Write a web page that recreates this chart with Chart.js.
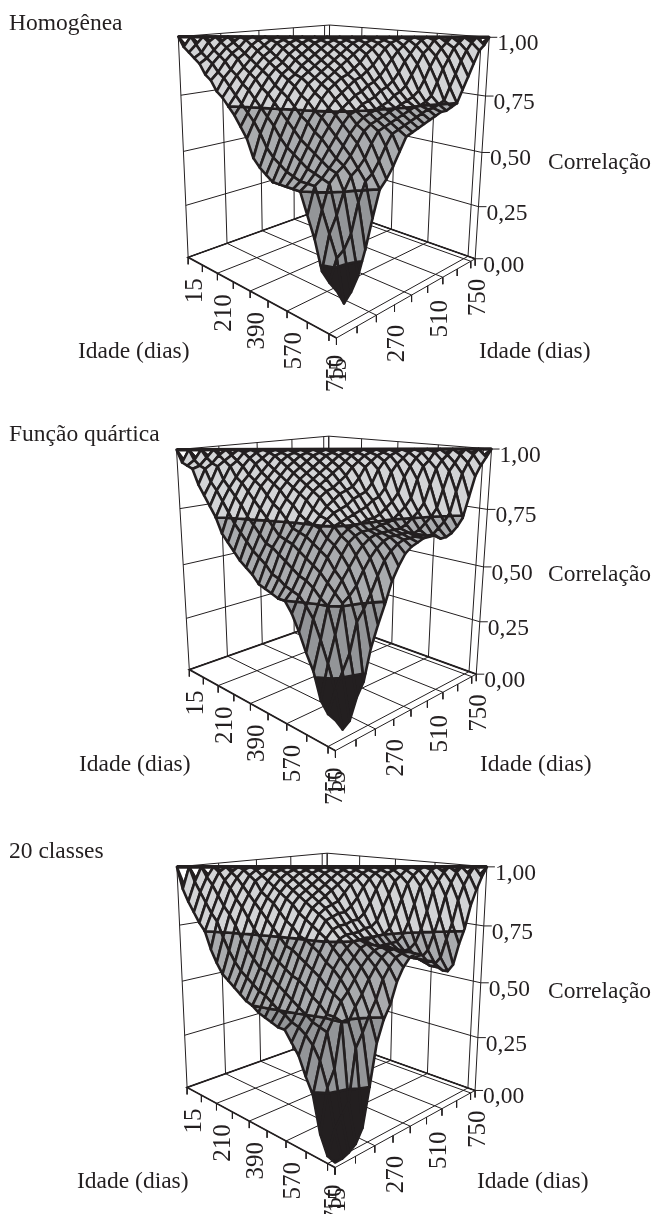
<!DOCTYPE html>
<html lang="pt">
<head>
<meta charset="utf-8">
<title>Correlação por idade</title>
<script src="https://cdn.jsdelivr.net/npm/chart.js@4"></script>
<style>
    html, body { margin: 0; padding: 0; background: #fff; }
    canvas { position: absolute; left: 0; }
</style>
</head>
<body>
<script>
// tick labels and where they sit on the category axes (index into the 26 ages)
const leftAges = ['15', '210', '390', '570', '750'];
const leftAgeIndex = [0, 6, 12, 18, 24];
const rightAges = ['15', '270', '510', '750'];
const rightAgeIndex = [0, 9, 17, 25];
const corrTicks = [0, 0.25, 0.5, 0.75, 1];
const corrLabels = ['0,00', '0,25', '0,50', '0,75', '1,00'];

// correlations, one list per age lag (first entry = age 15 edge)
const homogenea = [
    [1,1,1,1,1,1,1,1,1,1,1,1,1,1,1,1,1,1,1,1,1,1,1,1,1,1],
    [.96,.97,.98,.98,.98,.99,.99,.99,.99,.99,.99,.99,.99,.99,.99,.99,.99,.99,.99,.99,.99,.98,.98,.98,.97],
    [.94,.94,.95,.96,.96,.97,.97,.98,.98,.98,.98,.98,.98,.98,.98,.98,.98,.97,.97,.96,.96,.96,.95,.95],
    [.92,.92,.93,.94,.94,.95,.95,.96,.96,.96,.96,.96,.96,.96,.96,.96,.95,.94,.94,.93,.92,.91,.90],
    [.90,.90,.91,.92,.92,.93,.93,.94,.94,.94,.94,.94,.94,.94,.93,.92,.91,.90,.89,.88,.86,.85],
    [.86,.87,.88,.89,.90,.91,.91,.92,.92,.92,.92,.92,.91,.90,.89,.87,.86,.84,.83,.81,.80],
    [.84,.85,.86,.87,.88,.89,.89,.90,.90,.90,.90,.89,.88,.86,.84,.82,.80,.78,.76,.75],
    [.80,.82,.83,.85,.86,.87,.87,.88,.88,.88,.87,.86,.84,.82,.80,.78,.76,.75,.74],
    [.78,.79,.81,.82,.83,.85,.86,.86,.86,.86,.85,.83,.81,.79,.77,.75,.74,.73],
    [.75,.76,.78,.80,.81,.83,.84,.84,.84,.83,.81,.79,.77,.76,.75,.74,.73],
    [.72,.73,.75,.77,.79,.80,.81,.82,.81,.80,.78,.76,.75,.74,.73,.72],
    [.68,.70,.72,.74,.76,.78,.79,.79,.78,.77,.75,.74,.73,.72,.71],
    [.64,.66,.69,.71,.73,.75,.76,.76,.75,.74,.73,.72,.71,.70],
    [.57,.61,.65,.68,.71,.73,.74,.74,.73,.72,.71,.70,.69],
    [.54,.58,.62,.65,.68,.70,.71,.71,.71,.70,.69,.68],
    [.52,.56,.60,.63,.66,.67,.68,.69,.69,.68,.67],
    [.50,.54,.58,.61,.63,.64,.65,.65,.64,.62],
    [.50,.53,.56,.59,.60,.61,.60,.59,.57],
    [.50,.52,.55,.57,.58,.57,.55,.53],
    [.50,.52,.54,.56,.55,.53,.50],
    [.50,.52,.53,.50,.46,.40],
    [.42,.44,.42,.35,.29],
    [.34,.36,.30,.20],
    [.23,.28,.15],
    [.20,.12],
    [.18]
];

const quartica = [
    [1,1,1,1,1,1,1,1,1,1,1,1,1,1,1,1,1,1,1,1,1,1,1,1,1,1],
    [.95,.96,.97,.98,.98,.99,.99,.99,.99,.99,.99,.99,.99,.99,.99,.99,.99,.99,.99,.99,.99,.98,.98,.98,.97],
    [.94,.94,.95,.96,.96,.97,.97,.98,.98,.98,.98,.98,.98,.98,.98,.98,.98,.97,.97,.96,.96,.95,.95,.94],
    [.93,.93,.94,.94,.94,.95,.95,.96,.96,.96,.96,.96,.96,.96,.96,.96,.95,.94,.94,.93,.92,.91,.90],
    [.87,.88,.89,.90,.91,.92,.93,.94,.94,.94,.94,.94,.94,.94,.93,.92,.90,.89,.87,.85,.84,.82],
    [.83,.85,.86,.88,.89,.90,.91,.92,.92,.92,.92,.91,.90,.88,.86,.84,.82,.80,.78,.76,.74],
    [.79,.81,.83,.85,.87,.88,.89,.90,.90,.90,.89,.87,.85,.83,.81,.79,.77,.75,.73,.71],
    [.75,.77,.80,.82,.84,.86,.87,.88,.88,.87,.86,.84,.82,.79,.77,.75,.73,.71,.69],
    [.69,.73,.76,.79,.81,.83,.85,.86,.86,.85,.83,.80,.77,.75,.73,.71,.69,.68],
    [.66,.70,.73,.76,.79,.81,.83,.84,.83,.81,.79,.76,.74,.72,.70,.69,.68],
    [.63,.67,.70,.73,.76,.78,.80,.81,.80,.78,.76,.74,.72,.71,.70,.70],
    [.60,.64,.67,.70,.73,.76,.78,.79,.77,.75,.73,.72,.71,.70,.70],
    [.58,.62,.66,.69,.72,.75,.77,.76,.75,.73,.72,.71,.70,.70],
    [.56,.60,.64,.68,.71,.74,.75,.74,.73,.72,.71,.70,.69],
    [.53,.57,.62,.66,.69,.71,.72,.72,.71,.70,.69,.68],
    [.52,.56,.60,.64,.67,.69,.70,.69,.68,.67,.66],
    [.51,.54,.58,.62,.65,.66,.66,.65,.64,.62],
    [.50,.53,.57,.60,.61,.62,.61,.59,.57],
    [.50,.52,.55,.57,.58,.56,.53,.49],
    [.46,.49,.52,.54,.53,.48,.42],
    [.40,.45,.50,.51,.44,.34],
    [.33,.38,.40,.33,.22],
    [.27,.30,.27,.17],
    [.17,.21,.09],
    [.13,.07],
    [.12]
];

const vinteClasses = [
    [1,1,1,1,1,1,1,1,1,1,1,1,1,1,1,1,1,1,1,1,1,1,1,1,1,1],
    [.91,.94,.96,.98,.98,.99,.99,.99,.99,.99,.99,.99,.99,.99,.99,.99,.99,.99,.99,.99,.99,.98,.98,.97,.96],
    [.86,.90,.93,.95,.96,.97,.97,.98,.98,.98,.98,.98,.98,.98,.98,.98,.98,.97,.97,.96,.95,.94,.93,.91],
    [.82,.86,.89,.92,.93,.95,.95,.96,.96,.96,.96,.96,.96,.96,.96,.96,.95,.94,.93,.91,.89,.87,.85],
    [.78,.82,.85,.88,.90,.91,.93,.94,.94,.94,.94,.94,.94,.93,.92,.90,.88,.86,.83,.81,.78,.76],
    [.75,.79,.82,.85,.87,.89,.91,.92,.92,.92,.92,.91,.89,.87,.85,.82,.79,.76,.74,.72,.70],
    [.68,.73,.78,.81,.84,.87,.89,.90,.90,.90,.88,.86,.83,.80,.77,.74,.71,.68,.65,.62],
    [.63,.68,.73,.77,.81,.84,.87,.88,.88,.87,.84,.81,.78,.75,.72,.69,.66,.63,.60],
    [.59,.64,.69,.74,.78,.81,.84,.86,.86,.84,.81,.78,.75,.72,.69,.66,.63,.61],
    [.57,.61,.66,.71,.75,.79,.82,.84,.83,.80,.77,.75,.72,.70,.67,.65,.63],
    [.55,.59,.63,.68,.72,.76,.80,.82,.80,.77,.74,.72,.71,.69,.67,.66],
    [.53,.57,.62,.66,.71,.75,.78,.79,.77,.75,.73,.72,.70,.68,.67],
    [.51,.55,.60,.64,.69,.73,.76,.76,.75,.74,.73,.72,.71,.70],
    [.50,.54,.58,.62,.67,.71,.73,.73,.73,.72,.72,.71,.71],
    [.48,.52,.56,.61,.65,.68,.70,.70,.70,.70,.70,.70],
    [.47,.50,.54,.59,.63,.66,.67,.67,.67,.67,.67],
    [.46,.49,.52,.56,.60,.63,.63,.63,.63,.62],
    [.45,.47,.50,.54,.58,.59,.58,.56,.54],
    [.45,.46,.48,.51,.56,.54,.51,.49],
    [.41,.44,.47,.51,.49,.45,.41],
    [.37,.41,.46,.50,.40,.25],
    [.30,.36,.33,.20,.10],
    [.24,.27,.16,.05],
    [.10,.12,.03],
    [.03,.02],
    [.02]
];

const INK = '#231f20';
const BAND_COLORS = ['#231f20', '#939598', '#a9abae', '#d3d4d6'];
const BAND_LIMITS = [0, 0.25, 0.5, 0.75, 1];
const GRID_LINES = [0, 6, 12, 18, 24, 25];
const TICK_MARKS = [0, 3, 6, 9, 12, 15, 18, 21, 24, 25];
const CELLS = 25;

// frame corners in page pixels, used to fit the 3D camera of each panel
const panels = [
    {
        lags: homogenea, title: 'Homogênea', top: 0, height: 410,
        floor: [[188, 257], [337, 338], [475, 259], [328, 207]],
        roof: [[178, 37], [330, 25], [489, 37]],
        titleAt: [9, 30], leftName: [78, 358], rightName: [479, 358], corrName: [548, 169]
    },
    {
        lags: quartica, title: 'Função quártica', top: 410, height: 415,
        floor: [[190, 670], [334, 751], [477, 673], [328, 621]],
        roof: [[177, 449], [328, 436], [492, 450]],
        titleAt: [9, 441], leftName: [79, 771], rightName: [480, 771], corrName: [548, 581]
    },
    {
        lags: vinteClasses, title: '20 classes', top: 825, height: 389,
        floor: [[187, 1087], [335, 1168], [475, 1090], [327, 1038]],
        roof: [[177, 867], [327, 853], [487, 867]],
        titleAt: [9, 858], leftName: [77, 1188], rightName: [477, 1188], corrName: [548, 998]
    }
];

// least squares camera matrix from the known corners
function fitCamera(panel) {
    const world = [[0, 0, 0], [1, 0, 0], [1, 1, 0], [0, 1, 0], [0, 0, 1], [0, 1, 1], [1, 1, 1]];
    const screen = panel.floor.concat(panel.roof);
    const rows = [];
    world.forEach(([X, Y, Z], n) => {
        const [x, y] = screen[n];
        rows.push([X, Y, Z, 1, 0, 0, 0, 0, -x * X, -x * Y, -x * Z, x]);
        rows.push([0, 0, 0, 0, X, Y, Z, 1, -y * X, -y * Y, -y * Z, y]);
    });
    const size = 11;
    const m = [];
    for (let r = 0; r < size; r++) {
        m.push([]);
        for (let c = 0; c <= size; c++) {
            m[r].push(rows.reduce((sum, row) => sum + row[r] * row[c], 0));
        }
    }
    for (let c = 0; c < size; c++) {
        let best = c;
        for (let r = c + 1; r < size; r++) {
            if (Math.abs(m[r][c]) > Math.abs(m[best][c])) best = r;
        }
        [m[c], m[best]] = [m[best], m[c]];
        for (let r = 0; r < size; r++) {
            if (r === c) continue;
            const k = m[r][c] / m[c][c];
            for (let i = c; i <= size; i++) m[r][i] -= k * m[c][i];
        }
    }
    const p = m.map((row, r) => row[size] / row[r]);
    return (a, b, z) => {
        const X = a / CELLS, Y = b / CELLS;
        const w = p[8] * X + p[9] * Y + p[10] * z + 1;
        return {
            x: (p[0] * X + p[1] * Y + p[2] * z + p[3]) / w,
            y: (p[4] * X + p[5] * Y + p[6] * z + p[7]) / w
        };
    };
}

function clipAt(poly, level, keepAbove) {
    const out = [];
    poly.forEach((cur, n) => {
        const next = poly[(n + 1) % poly.length];
        const curIn = keepAbove ? cur.z >= level : cur.z <= level;
        const nextIn = keepAbove ? next.z >= level : next.z <= level;
        if (curIn) out.push(cur);
        if (curIn !== nextIn) {
            const t = (level - cur.z) / (next.z - cur.z);
            out.push({ a: cur.a + t * (next.a - cur.a), b: cur.b + t * (next.b - cur.b), z: level });
        }
    });
    return out;
}

function lineSet(points, width) {
    return { data: points, showLine: true, borderColor: INK, borderWidth: width, pointRadius: 0, tension: 0 };
}

function frameDatasets(project) {
    const sets = [];
    const nudge = (p, dx, dy) => ({ x: p.x + dx, y: p.y + dy });

    GRID_LINES.forEach(k => {
        sets.push(lineSet([project(k, 0, 0), project(k, CELLS, 0), project(k, CELLS, 1)], 1));
        sets.push(lineSet([project(CELLS, k, 0), project(0, k, 0), project(0, k, 1)], 1));
    });
    corrTicks.forEach(z => {
        const end = project(CELLS, CELLS, z);
        sets.push(lineSet([project(0, 0, z), project(0, CELLS, z), end, nudge(end, 8, 0)], 1));
    });

    // heavier base edges
    sets.push(lineSet([project(0, CELLS, 0), project(0, 0, 0), project(CELLS, 0, 0)], 1.7));
    sets.push(lineSet([project(0, CELLS, 0), project(CELLS, CELLS, 0)], 1.7));

    TICK_MARKS.forEach(k => {
        const onLeft = project(k, 0, 0);
        const onRight = project(CELLS, k, 0);
        sets.push(lineSet([onLeft, nudge(onLeft, 0, 7)], 1));
        sets.push(lineSet([onRight, nudge(onRight, 0, 7)], 1));
    });
    return sets;
}

function surfaceDatasets(panel, project) {
    const height = (a, b) => panel.lags[Math.abs(a - b)][Math.min(a, b)];
    const cells = [];
    for (let a = 0; a < CELLS; a++) {
        for (let b = 0; b < CELLS; b++) cells.push([a, b]);
    }
    // back corner first, so nearer cells cover farther ones
    cells.sort((p, q) => (p[0] - p[1]) - (q[0] - q[1]));

    const sets = [];
    cells.forEach(([a, b]) => {
        const quad = [[a, b], [a + 1, b], [a + 1, b + 1], [a, b + 1]]
            .map(([i, j]) => ({ a: i, b: j, z: height(i, j) }));
        BAND_COLORS.forEach((color, band) => {
            let poly = clipAt(quad, BAND_LIMITS[band], true);
            if (poly.length) poly = clipAt(poly, BAND_LIMITS[band + 1], false);
            if (poly.length < 3) return;
            const pts = poly.map(v => project(v.a, v.b, v.z));
            pts.push(pts[0]);
            const set = lineSet(pts, 2.6);
            set.polygonFill = color;
            set.borderJoinStyle = 'round';
            set.borderCapStyle = 'round';
            sets.push(set);
        });
    });
    return sets;
}

// the line controller only strokes, so each cell's fill goes in just before it
const polygonFill = {
    id: 'polygonFill',
    beforeDatasetDraw(chart, args) {
        const color = chart.data.datasets[args.index].polygonFill;
        if (!color) return;
        const ctx = chart.ctx;
        ctx.save();
        ctx.fillStyle = color;
        ctx.beginPath();
        args.meta.data.forEach((pt, n) => (n ? ctx.lineTo(pt.x, pt.y) : ctx.moveTo(pt.x, pt.y)));
        ctx.closePath();
        ctx.fill();
        ctx.restore();
    }
};

function drawLabels(chart, panel, project) {
    const ctx = chart.ctx;
    const sx = chart.scales.x, sy = chart.scales.y;
    const plain = (text, at) => ctx.fillText(text, sx.getPixelForValue(at[0]), sy.getPixelForValue(at[1]));
    const upright = (text, anchor) => {
        ctx.save();
        ctx.translate(sx.getPixelForValue(anchor.x), sy.getPixelForValue(anchor.y));
        ctx.rotate(-Math.PI / 2);
        ctx.textAlign = 'right';
        ctx.textBaseline = 'middle';
        ctx.fillText(text, 0, 0);
        ctx.restore();
    };

    ctx.save();
    ctx.font = '23.5px "Liberation Serif"';
    ctx.fillStyle = INK;
    ctx.textAlign = 'left';
    ctx.textBaseline = 'alphabetic';
    plain(panel.title, panel.titleAt);
    plain('Idade (dias)', panel.leftName);
    plain('Idade (dias)', panel.rightName);
    plain('Correlação', panel.corrName);

    corrLabels.forEach((label, n) => {
        const end = project(CELLS, CELLS, corrTicks[n]);
        plain(label, [end.x + 8, end.y + 13]);
    });
    ctx.font = '25px "Liberation Serif"';
    leftAges.forEach((label, n) => {
        const p = project(leftAgeIndex[n], 0, 0);
        upright(label, { x: p.x + 7, y: p.y + 21 });
    });
    rightAges.forEach((label, n) => {
        const p = project(CELLS, rightAgeIndex[n], 0);
        upright(label, { x: p.x + 3, y: p.y + 20 });
    });
    ctx.restore();
}

function renderPanel(panel) {
    const canvas = document.createElement('canvas');
    canvas.width = 654;
    canvas.height = panel.height;
    canvas.style.top = panel.top + 'px';
    canvas.style.width = '654px';
    canvas.style.height = panel.height + 'px';
    document.body.appendChild(canvas);

    const project = fitCamera(panel);
    const ridge = lineSet([project(0, 0, 1), project(CELLS, CELLS, 1)], 3.6);
    // Chart.js paints the first dataset last, so the frame goes at the end of the list
    const datasets = [ridge].concat(surfaceDatasets(panel, project).reverse(), frameDatasets(project));

    return new Chart(canvas.getContext('2d'), {
        type: 'scatter',
        data: { datasets },
        options: {
            responsive: false,
            animation: false,
            events: [],
            layout: { padding: 0 },
            plugins: { legend: { display: false }, tooltip: { enabled: false } },
            scales: {
                x: { type: 'linear', display: false, min: 0, max: 654 },
                y: { type: 'linear', display: false, reverse: true, min: panel.top, max: panel.top + panel.height }
            }
        },
        plugins: [polygonFill, { id: 'labels', afterDraw: chart => drawLabels(chart, panel, project) }]
    });
}

panels.forEach(renderPanel);
</script>
</body>
</html>
